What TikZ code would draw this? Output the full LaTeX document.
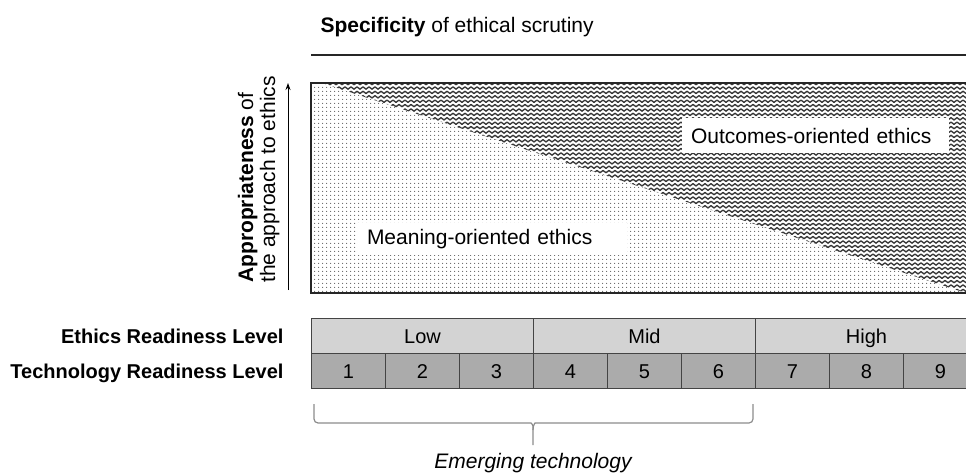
\documentclass[tikz,border=0pt]{standalone}
\usepackage{fontspec}
\setmainfont{Liberation Sans}
\usetikzlibrary{patterns,arrows.meta}

% fine dot grid for the meaning-oriented region
\pgfdeclarepatternformonly{finedots}{\pgfpoint{0pt}{0pt}}{\pgfpoint{3.6pt}{3.6pt}}{\pgfpoint{3.6pt}{3.6pt}}{%
  \pgfpathcircle{\pgfpoint{1.8pt}{1.8pt}}{0.62pt}\pgfusepath{fill}}
% rows of small zigzags for the outcomes-oriented region
\pgfdeclarepatternformonly{zigzagrows}{\pgfpoint{-1pt}{-1pt}}{\pgfpoint{7pt}{5.5pt}}{\pgfpoint{6pt}{4.4pt}}{%
  \pgfsetlinewidth{1.35pt}\pgfsetroundcap\pgfsetroundjoin
  \pgfpathmoveto{\pgfpoint{0pt}{1.1pt}}%
  \pgfpathlineto{\pgfpoint{3pt}{3.3pt}}%
  \pgfpathlineto{\pgfpoint{6pt}{1.1pt}}%
  \pgfusepath{stroke}}

\definecolor{erlfill}{HTML}{D3D3D3}
\definecolor{trlfill}{HTML}{ABABAB}
\definecolor{cellline}{HTML}{444444}

\tikzset{
  txt/.style={font=\fontsize{21}{25}\selectfont},
  rowlabel/.style={font=\fontsize{20}{24}\selectfont\bfseries, anchor=base east},
  erlcell/.style={draw=cellline, fill=erlfill, line width=1pt, anchor=north west, inner sep=0pt,
    minimum width=222pt, minimum height=35pt, text height=14.5pt, text depth=0pt,
    font=\fontsize{20}{24}\selectfont},
  trlcell/.style={draw=cellline, fill=trlfill, line width=1pt, anchor=north west, inner sep=0pt,
    minimum width=74pt, minimum height=35pt, text height=14.5pt, text depth=0pt,
    font=\fontsize{20}{24}\selectfont},
  areabox/.style={fill=white, inner xsep=9pt, inner ysep=0pt, align=left, txt},
  brace/.style={draw=black!45, line width=1.2pt, rounded corners=4pt},
}

\begin{document}
\begin{tikzpicture}[x=1pt,y=-1pt]
\useasboundingbox (0,0) rectangle (966,473);

% corners of the chart area
\coordinate (nw) at (311,83);
\coordinate (ne) at (975,83);
\coordinate (sw) at (311,293);
\coordinate (se) at (975,293);
\coordinate (splitTop) at (322,83);
\coordinate (splitBot) at (966,293);

% title and rule
\node[txt, anchor=base west] (title) at (317,33) {\textbf{Specificity} of ethical scrutiny};
\coordinate (ruleL) at (311,55);
\coordinate (ruleR) at (975,55);
\draw[line width=1.5pt, black!85] (ruleL) -- (ruleR);

% the two regions
\fill[pattern=finedots, pattern color=black!62] (nw) -- (splitTop) -- (splitBot) -- (sw) -- cycle;
\fill[pattern=zigzagrows, pattern color=black!78] (splitTop) -- (ne) -- (se) -- (splitBot) -- cycle;
\draw[line width=1.8pt, black!85] (ne) -- (nw) -- (sw) -- (se);

\node[areabox, text width=249pt, minimum height=35pt] (outcomes) at (815.5,135.5) {Outcomes-oriented ethics};
\node[areabox, text width=251pt, minimum height=32pt] (meaning) at (492.5,239) {Meaning-oriented ethics};

% vertical axis
\coordinate (axisBot) at (288,290);
\coordinate (axisTop) at (288,83);
\draw[line width=1pt, -{Stealth[length=7pt,width=5pt]}] (axisBot) -- (axisTop);
\node[txt, rotate=90, anchor=base west, inner sep=0pt] (ylab1) at (253,283) {\textbf{Appropriateness} of};
\node[txt, rotate=90, anchor=base west, inner sep=0pt] (ylab2) at (275,283) {the approach to ethics};

% readiness levels
\node[rowlabel] (erllab) at (287,343) {Ethics Readiness Level};
\node[rowlabel] (trllab) at (287,378) {Technology Readiness Level};

\node[erlcell] (low)  at (311,318) {Low};
\node[erlcell] (mid)  at (533,318) {Mid};
\node[erlcell] (high) at (755,318) {High};

\foreach \i in {1,...,9}{
  \node[trlcell] (trl\i) at ({311+74*(\i-1)},353) {\i};
}

% brace under levels 1-6
\coordinate (braceL) at (314,404);
\coordinate (braceR) at (753,404);
\coordinate (braceTip) at (533,445);
\draw[brace] (braceL) |- (527,423) .. controls (531,423) and (533,425) .. (533,430) -- (braceTip);
\draw[brace] (braceR) |- (539,423) .. controls (535,423) and (533,425) .. (533,430);
\node[txt, anchor=base, font=\fontsize{21}{25}\selectfont\itshape] (emerging) at (533,468) {Emerging technology};
\end{tikzpicture}
\end{document}
